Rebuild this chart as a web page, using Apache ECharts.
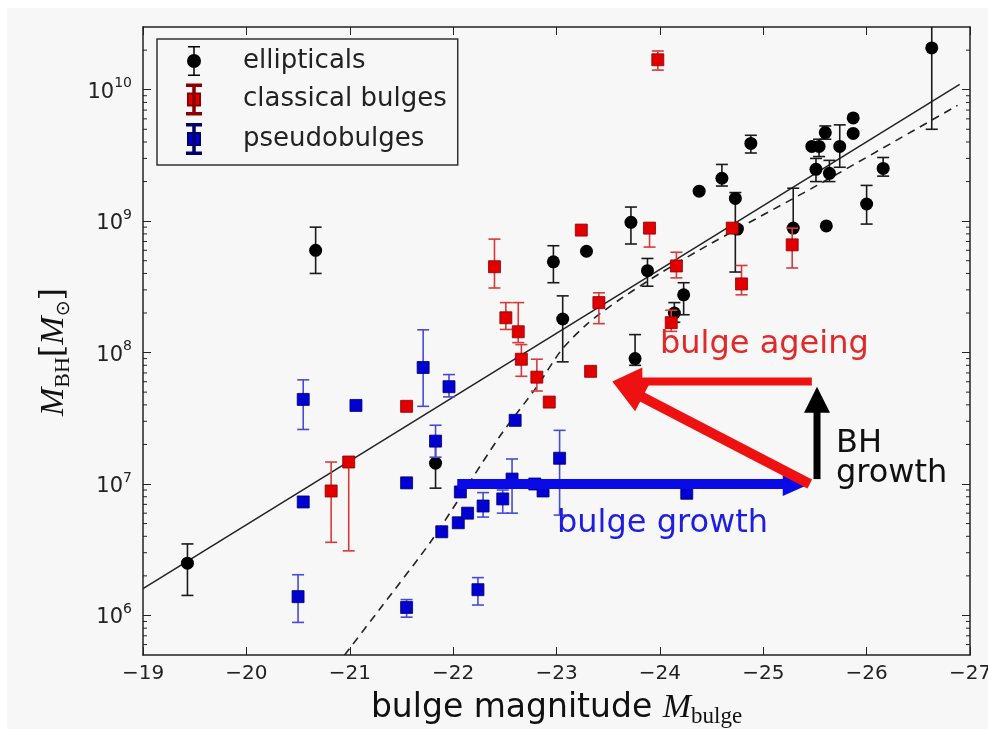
<!DOCTYPE html>
<html><head><meta charset="utf-8">
<script src="https://cdn.jsdelivr.net/npm/echarts@6/dist/echarts.min.js"></script>
<style>
html,body{margin:0;padding:0;background:#ffffff;}
#bg{position:absolute;left:7px;top:8px;width:981px;height:721px;background:#f7f7f7;}
#main{position:absolute;left:0;top:0;width:988px;height:729px;}
</style>
</head><body>
<div id="bg"></div>
<div id="main"></div>
<script>
// ---------------- data ----------------
const xMin = -27, xMax = -19;
const yMin = 5e5, yMax = 3e10;
const yMajorTicks = [1e6, 1e7, 1e8, 1e9, 1e10];

// ellipticals: bulge magnitude, M_BH, lower / upper error bar ends (null = no bar)
const ellipticalsMag = [-19.43, -20.67, -21.83, -22.97, -23.29, -23.72, -23.06, -23.76, -24.38, -24.60, -24.73, -24.75, -23.88, -24.23, -24.14, -24.88, -25.29, -26.63, -25.47, -25.54, -25.60, -25.87, -25.87, -25.74, -25.51, -25.64, -26.16, -26.00, -25.61];
const ellipticalsBH = [2.5e6, 6.0e8, 1.44e7, 4.9e8, 5.9e8, 9.8e8, 1.8e8, 9.0e7, 1.69e9, 2.12e9, 1.49e9, 8.7e8, 4.2e8, 2.75e8, 2.0e8, 3.9e9, 8.85e8, 2.08e10, 3.7e9, 3.7e9, 4.72e9, 6.1e9, 4.65e9, 3.7e9, 2.48e9, 2.31e9, 2.52e9, 1.35e9, 9.2e8];
const ellipticalsLo = [1.42e6, 4.0e8, 9.3e6, 3.4e8, null, 6.7e8, 8.5e7, 8.0e7, null, 1.85e9, 4.1e8, null, 3.2e8, 1.94e8, 1.7e8, 3.3e9, 8.85e8, 5.0e9, null, 3.1e9, 4.2e9, null, null, 2.57e9, 2.0e9, 2.0e9, 2.2e9, 9.5e8, null];
const ellipticalsHi = [3.5e6, 9.0e8, 2.0e7, 6.5e8, null, 1.28e9, 2.7e8, 1.37e8, null, 2.7e9, 1.65e9, null, 5.2e8, 3.4e8, 2.4e8, 4.5e9, 1.78e9, 3.6e10, null, 4.2e9, 5.3e9, null, null, 5.4e9, 3.0e9, 2.9e9, 3.05e9, 1.87e9, null];

// classical bulges
const classicalMag = [-20.82, -20.99, -21.55, -22.40, -22.51, -22.63, -22.66, -22.81, -22.93, -23.33, -23.24, -23.41, -23.98, -23.90, -24.16, -24.11, -24.70, -24.79, -25.28];
const classicalBH = [8.85e6, 1.47e7, 3.9e7, 4.5e8, 1.84e8, 1.44e8, 8.9e7, 6.5e7, 4.2e7, 7.2e7, 8.55e8, 2.4e8, 1.69e10, 8.85e8, 4.56e8, 1.69e8, 8.85e8, 3.33e8, 6.6e8];
const classicalLo = [3.6e6, 3.1e6, null, 3.1e8, 1.5e8, 1.19e8, 6.6e7, 5.1e7, null, null, null, 1.66e8, 1.41e10, 6.35e8, 3.7e8, 1.45e8, null, 2.75e8, 4.4e8];
const classicalHi = [1.47e7, 1.6e7, null, 7.3e8, 2.4e8, 2.4e8, 1.15e8, 8.9e7, null, null, null, 2.85e8, 1.97e10, 8.85e8, 5.8e8, 2.1e8, null, 4.6e8, 8.85e8];

// pseudobulges
const pseudoMag = [-20.50, -20.55, -20.55, -21.06, -21.55, -21.55, -21.71, -21.83, -21.89, -21.96, -22.05, -22.07, -22.14, -22.24, -22.29, -22.48, -22.57, -22.60, -22.79, -22.87, -23.03, -24.26];
const pseudoBH = [1.39e6, 4.4e7, 7.3e6, 3.96e7, 1.02e7, 1.15e6, 7.7e7, 2.12e7, 4.33e6, 5.5e7, 5.07e6, 8.7e6, 6.0e6, 1.57e6, 6.8e6, 7.7e6, 1.09e7, 3.05e7, 1.0e7, 8.85e6, 1.57e7, 8.5e6];
const pseudoLo = [8.85e5, 2.6e7, null, null, null, 9.7e5, 3.9e7, 1.6e7, null, 4.6e7, null, null, null, 1.2e6, 5.6e6, 6.0e6, 6.0e6, null, null, null, 5.8e6, null];
const pseudoHi = [2.04e6, 6.2e7, null, null, null, 1.32e6, 1.49e8, 2.8e7, null, 6.8e7, null, null, null, 1.94e6, 8.6e6, 9.0e6, 1.55e7, null, null, null, 2.56e7, null];

// fit relations
const fitSolidMag = [-19.0, -26.9];
const fitSolidBH = [1.6e6, 1.1e10];
const fitDashedMag = [-20.95, -21.32, -21.80, -22.45, -22.81, -23.05, -23.30, -23.60, -24.00, -24.50, -25.52, -26.88];
const fitDashedBH = [5.0e5, 1.2e6, 3.8e6, 2.3e7, 5.5e7, 1.05e8, 1.66e8, 2.5e8, 4.0e8, 6.8e8, 1.87e9, 7.6e9];

// annotation arrows: [fromMag, fromBH, toMag, toBH]
const arrowCoords = [
  [-22.04, 1.0e7, -25.45, 1.0e7],   // bulge growth
  [-25.47, 6.03e7, -23.54, 6.03e7], // bulge ageing (horizontal)
  [-25.45, 1.0e7, -23.54, 6.03e7],  // diagonal
  [-25.52, 1.09e7, -25.52, 5.5e7]   // BH growth
];

// ---------------- styles ----------------
const arrowStyles = [
  {color:'#0a0ae6', width:10, hl:27, hw:12},
  {color:'#ee1111', width:8, hl:30, hw:14},
  {color:'#ee1111', width:10, hl:34, hw:16},
  {color:'#000000', width:7, hl:26, hw:13}
];

function pairs(a, b){ return a.map((v,i)=>[v, b[i]]); }
function errData(m, v, lo, hi){
  const d = [];
  m.forEach((x,i)=>{ if(lo[i]!=null) d.push([x, v[i], lo[i], hi[i]]); });
  return d;
}
function errSeries(data, color, z){
  return {
    type:'custom', silent:true, clip:true, z:z, xAxisIndex:0, yAxisIndex:0,
    data:data, encode:{x:0, y:[2,3]},
    renderItem:function(params, api){
      const x = api.value(0);
      const a = api.coord([x, api.value(2)]);
      const b = api.coord([x, api.value(3)]);
      const cw = 6;
      const st = {stroke:color, lineWidth:1.6};
      return {type:'group', children:[
        {type:'line', shape:{x1:a[0],y1:a[1],x2:b[0],y2:b[1]}, style:st},
        {type:'line', shape:{x1:a[0]-cw,y1:a[1],x2:a[0]+cw,y2:a[1]}, style:st},
        {type:'line', shape:{x1:b[0]-cw,y1:b[1],x2:b[0]+cw,y2:b[1]}, style:st}
      ]};
    }
  };
}

const iconCircle = 'path://M1,0 H13 V1.5 H1 Z M6.25,1.5 H7.75 V28.5 H6.25 Z M1,28.5 H13 V30 H1 Z M0,15 A7,7 0 1,1 14,15 A7,7 0 1,1 0,15 Z';
const iconSquare = 'path://M0,0 H14 V1.5 H0 Z M6.25,1.5 H7.75 V28.5 H6.25 Z M0,28.5 H14 V30 H0 Z M1,9 H13 V21 H1 Z';

const chart = echarts.init(document.getElementById('main'), null, {renderer:'canvas'});
const axisColor = '#222222';
const labelFont = 'DejaVu Sans';

// minor log ticks (2..9 x 10^n) within the axis range
const minorTicks = [];
[5,6,7,8,9,10].forEach(function(e){ [2,3,4,5,6,7,8,9].forEach(function(k){ const v = k*Math.pow(10,e); if(v>yMin && v<yMax) minorTicks.push(v); }); });

const option = {
  backgroundColor:'transparent',
  animation:false,
  grid:{left:143, right:18, top:27, bottom:74, containLabel:false, outerBoundsMode:'none'},
  legend:{
    orient:'vertical', left:157, top:39,
    padding:[7, 11, 10, 29], itemGap:7.5, itemWidth:14, itemHeight:30,
    borderColor:'#333', borderWidth:1.5, backgroundColor:'#f7f7f7',
    selectedMode:false,
    data:[{name:'ellipticals', icon:iconCircle},{name:'classical bulges', icon:iconSquare},{name:'pseudobulges', icon:iconSquare}],
    formatter:function(n){ return '{sp|}{t|' + n + '}'; },
    textStyle:{rich:{sp:{width:37}, t:{fontSize:26, fontFamily:labelFont, color:'#222'}}}
  },
  xAxis:[
    {type:'value', min:xMin, max:xMax, interval:1, inverse:true, position:'bottom',
     axisLine:{show:true, onZero:false, lineStyle:{color:axisColor, width:1.5}},
     axisTick:{show:true, inside:true, length:8, lineStyle:{color:axisColor, width:1}},
     axisLabel:{margin:9, fontSize:20, fontFamily:labelFont, color:'#222',
       formatter:function(v){ return '\u2212' + Math.abs(v); }},
     splitLine:{show:false},
     name:'{t|bulge magnitude }{m|M}{s|bulge}', nameLocation:'middle', nameGap:33,
     nameTextStyle:{rich:{
       t:{fontSize:33, fontFamily:labelFont, color:'#111', lineHeight:40, verticalAlign:'middle'},
       m:{fontSize:34, fontFamily:'Liberation Serif', fontStyle:'italic', color:'#111', lineHeight:40, verticalAlign:'middle'},
       s:{fontSize:23, fontFamily:'Liberation Serif', color:'#111', lineHeight:23, verticalAlign:'bottom'}
     }}
    },
    {type:'value', min:xMin, max:xMax, interval:1, inverse:true, position:'top',
     axisLine:{show:true, onZero:false, lineStyle:{color:axisColor, width:1.5}},
     axisTick:{show:true, inside:true, length:8, lineStyle:{color:axisColor, width:1}},
     axisLabel:{show:false}, splitLine:{show:false}}
  ],
  yAxis:[
    {type:'log', logBase:10, min:yMin, max:yMax, position:'left',
     axisLine:{show:true, onZero:false, lineStyle:{color:axisColor, width:1.5}},
     axisTick:{show:true, inside:true, length:8, customValues:yMajorTicks, lineStyle:{color:axisColor, width:1}},
     axisLabel:{margin:11, customValues:yMajorTicks,
       formatter:function(v){ return '{b|10}{s|' + Math.round(Math.log10(v)) + '}'; },
       rich:{b:{fontSize:21, fontFamily:labelFont, color:'#222', lineHeight:26, verticalAlign:'bottom'},
             s:{fontSize:14, fontFamily:labelFont, color:'#222', lineHeight:14, verticalAlign:'top'}}},
     splitLine:{show:false},
     name:'{m|M}{s|BH}{t|[}{m|M}{o|\u2299}{t|]}{sp|}', nameLocation:'middle', nameGap:69, nameRotate:90,
     nameTextStyle:{rich:{
       m:{fontSize:34, fontFamily:'Liberation Serif', fontStyle:'italic', color:'#111', lineHeight:40, verticalAlign:'middle'},
       t:{fontSize:32, fontFamily:'DejaVu Serif', color:'#111', lineHeight:40, verticalAlign:'middle'},
       s:{fontSize:22, fontFamily:'Liberation Serif', color:'#111', lineHeight:22, verticalAlign:'bottom'},
       o:{fontSize:19, fontFamily:'DejaVu Sans', color:'#111', lineHeight:19, verticalAlign:'bottom'},
       sp:{width:22}
     }}
    },
    {type:'log', logBase:10, min:yMin, max:yMax, position:'right',
     axisLine:{show:true, onZero:false, lineStyle:{color:axisColor, width:1.5}},
     axisTick:{show:true, inside:true, length:8, customValues:yMajorTicks, lineStyle:{color:axisColor, width:1}},
     axisLabel:{show:false}, splitLine:{show:false}}
  ],
  series:[]
};

option.series.push(
  {type:'custom', name:'minorTicks', silent:true, z:1, clip:false, xAxisIndex:0, yAxisIndex:0,
   data:minorTicks.map(function(v){ return [xMax, v]; }), encode:{x:0, y:1},
   renderItem:function(params, api){
     const cs = params.coordSys;
     const y = api.coord([api.value(0), api.value(1)])[1];
     const st = {stroke:axisColor, lineWidth:1};
     return {type:'group', children:[
       {type:'line', shape:{x1:cs.x, y1:y, x2:cs.x+4, y2:y}, style:st},
       {type:'line', shape:{x1:cs.x+cs.width-4, y1:y, x2:cs.x+cs.width, y2:y}, style:st}
     ]};
   }},
  {type:'line', name:'fit', data:pairs(fitSolidMag, fitSolidBH), symbol:'none', silent:true, z:2,
   lineStyle:{color:'#222', width:1.5}},
  {type:'line', name:'fit2', data:pairs(fitDashedMag, fitDashedBH), symbol:'none', silent:true, z:2, smooth:0.25,
   lineStyle:{color:'#222', width:1.6, type:[8,6]}},
  errSeries(errData(ellipticalsMag, ellipticalsBH, ellipticalsLo, ellipticalsHi), '#1a1a1a', 3),
  {type:'scatter', name:'ellipticals', data:pairs(ellipticalsMag, ellipticalsBH), symbol:'circle', symbolSize:13, z:4,
   itemStyle:{color:'#000000', opacity:1}},
  errSeries(errData(classicalMag, classicalBH, classicalLo, classicalHi), '#d83a3a', 5),
  {type:'scatter', name:'classical bulges', data:pairs(classicalMag, classicalBH), symbol:'rect', symbolSize:12, z:6,
   itemStyle:{color:'#e00000', borderColor:'#8a0000', borderWidth:0.8, opacity:1}},
  errSeries(errData(pseudoMag, pseudoBH, pseudoLo, pseudoHi), '#4a4ad8', 7),
  {type:'scatter', name:'pseudobulges', data:pairs(pseudoMag, pseudoBH), symbol:'rect', symbolSize:12, z:8,
   itemStyle:{color:'#0000d0', borderColor:'#00006a', borderWidth:0.8, opacity:1}},
  {type:'custom', name:'arrows', silent:true, z:9, clip:false,
   data:arrowCoords, encode:{x:[0,2], y:[1,3]},
   renderItem:function(params, api){
     const s = arrowStyles[params.dataIndex];
     const p0 = api.coord([api.value(0), api.value(1)]);
     const p1 = api.coord([api.value(2), api.value(3)]);
     const dx = p1[0]-p0[0], dy = p1[1]-p0[1];
     const L = Math.sqrt(dx*dx+dy*dy);
     const ux = dx/L, uy = dy/L, nx = -uy, ny = ux;
     const bx = p1[0]-ux*s.hl, by = p1[1]-uy*s.hl;
     return {type:'group', children:[
       {type:'line', shape:{x1:p0[0], y1:p0[1], x2:bx+ux*2, y2:by+uy*2}, style:{stroke:s.color, lineWidth:s.width, lineCap:'butt'}},
       {type:'polygon', shape:{points:[[p1[0],p1[1]],[bx+nx*s.hw, by+ny*s.hw],[bx-nx*s.hw, by-ny*s.hw]]}, style:{fill:s.color}}
     ]};
   }}
);

option.graphic = [
  {type:'text', left:660, top:329, z:20, silent:true, style:{text:'bulge ageing', fill:'#e02a2a', font:'32px "DejaVu Sans"'}},
  {type:'text', left:557, top:508, z:20, silent:true, style:{text:'bulge growth', fill:'#1e1ee0', font:'32px "DejaVu Sans"'}},
  {type:'text', left:836, top:428, z:20, silent:true, style:{text:'BH', fill:'#111', font:'32px "DejaVu Sans"'}},
  {type:'text', left:836, top:458, z:20, silent:true, style:{text:'growth', fill:'#111', font:'32px "DejaVu Sans"'}}
];

chart.setOption(option);
</script>
</body></html>
